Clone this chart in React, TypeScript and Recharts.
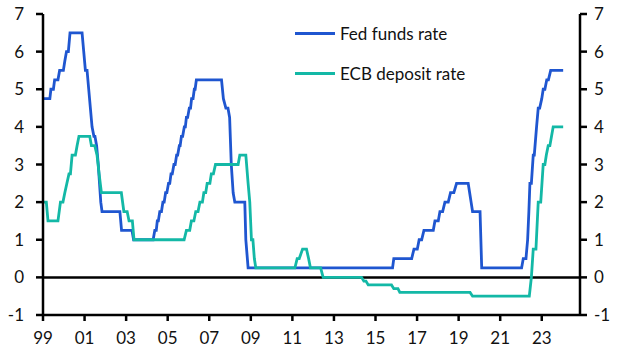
import { LineChart, Line, XAxis, YAxis, ReferenceLine } from "recharts";

// monthly-ish turning points (decimal year, % rate)
const fedDates = [
  1999.0, 1999.33, 1999.38, 1999.5, 1999.56, 1999.72, 1999.8, 1999.98, 2000.05, 2000.13, 2000.22, 2000.3,
  2000.88, 2000.96, 2001.04, 2001.12, 2001.2, 2001.28, 2001.36, 2001.45, 2001.5, 2001.58, 2001.66, 2001.72,
  2001.78, 2001.84, 2002.7, 2002.78, 2003.28, 2003.36, 2004.3, 2004.38, 2004.45, 2004.5, 2004.55, 2004.62,
  2004.7, 2004.77, 2004.83, 2004.9, 2004.96, 2005.04, 2005.1, 2005.16, 2005.22, 2005.3, 2005.36, 2005.43,
  2005.48, 2005.56, 2005.6, 2005.66, 2005.72, 2005.8, 2005.85, 2005.9, 2005.96, 2006.04, 2006.1, 2006.15,
  2006.22, 2006.28, 2006.32, 2006.38, 2007.59, 2007.68, 2007.8, 2007.9, 2007.98, 2008.06, 2008.15, 2008.23,
  2008.71, 2008.76, 2008.87, 2015.82, 2015.88, 2016.74, 2016.85, 2017.01, 2017.1, 2017.22, 2017.33, 2017.78,
  2017.86, 2018.02, 2018.1, 2018.23, 2018.34, 2018.5, 2018.61, 2018.77, 2018.9, 2019.46, 2019.53, 2019.6,
  2019.67, 2020.03, 2020.11, 2022.03, 2022.11, 2022.24, 2022.32, 2022.38, 2022.43, 2022.5, 2022.59, 2022.64,
  2022.75, 2022.83, 2022.9, 2023.0, 2023.07, 2023.15, 2023.24, 2023.32, 2023.43, 2024.03,
];
const fedRates = [
  4.75, 4.75, 5.0, 5.0, 5.25, 5.25, 5.5, 5.5, 5.75, 6.0, 6.0, 6.5,
  6.5, 6.0, 5.5, 5.5, 5.0, 4.5, 4.0, 3.75, 3.75, 3.5, 3.0, 2.5,
  2.0, 1.75, 1.75, 1.25, 1.25, 1.0, 1.0, 1.25, 1.25, 1.5, 1.5, 1.75,
  1.75, 2.0, 2.0, 2.25, 2.25, 2.5, 2.5, 2.75, 2.75, 3.0, 3.0, 3.25,
  3.25, 3.5, 3.5, 3.75, 3.75, 4.0, 4.0, 4.25, 4.25, 4.5, 4.5, 4.75,
  4.75, 5.0, 5.0, 5.25, 5.25, 4.75, 4.5, 4.5, 4.25, 3.0, 2.25, 2.0,
  2.0, 1.0, 0.25, 0.25, 0.5, 0.5, 0.75, 0.75, 1.0, 1.0, 1.25, 1.25,
  1.5, 1.5, 1.75, 1.75, 2.0, 2.0, 2.25, 2.25, 2.5, 2.5, 2.25, 2.0,
  1.75, 1.75, 0.25, 0.25, 0.5, 0.5, 1.0, 1.75, 2.5, 2.5, 3.25, 3.25,
  4.0, 4.5, 4.5, 4.75, 5.0, 5.0, 5.25, 5.25, 5.5, 5.5,
];

const ecbDates = [
  1999.0, 1999.16, 1999.24, 1999.72, 1999.84, 1999.96, 2000.05, 2000.15, 2000.25, 2000.32, 2000.4, 2000.56,
  2000.64, 2000.73, 2001.25, 2001.33, 2001.49, 2001.6, 2001.7, 2001.81, 2002.77, 2002.89, 2003.05, 2003.14,
  2003.3, 2003.38, 2005.79, 2005.9, 2006.06, 2006.14, 2006.26, 2006.35, 2006.46, 2006.55, 2006.67, 2006.74,
  2006.83, 2006.9, 2007.03, 2007.1, 2007.2, 2007.3, 2008.39, 2008.47, 2008.76, 2008.87, 2008.95, 2009.03,
  2009.1, 2009.17, 2009.24, 2011.12, 2011.23, 2011.33, 2011.49, 2011.68, 2011.78, 2011.87, 2012.36, 2012.48,
  2014.33, 2014.44, 2014.54, 2014.65, 2015.77, 2015.88, 2016.08, 2016.17, 2019.55, 2019.67, 2022.4, 2022.5,
  2022.59, 2022.72, 2022.83, 2022.95, 2023.07, 2023.15, 2023.22, 2023.31, 2023.39, 2023.47, 2023.55, 2024.03,
];
const ecbRates = [
  2.0, 2.0, 1.5, 1.5, 2.0, 2.0, 2.25, 2.5, 2.75, 2.75, 3.25, 3.25,
  3.5, 3.75, 3.75, 3.5, 3.5, 3.25, 2.75, 2.25, 2.25, 1.75, 1.75, 1.5,
  1.5, 1.0, 1.0, 1.25, 1.25, 1.5, 1.5, 1.75, 1.75, 2.0, 2.0, 2.25,
  2.25, 2.5, 2.5, 2.75, 2.75, 3.0, 3.0, 3.25, 3.25, 2.5, 2.0, 1.0,
  1.0, 0.5, 0.25, 0.25, 0.5, 0.5, 0.75, 0.75, 0.5, 0.25, 0.25, 0.0,
  0.0, -0.1, -0.1, -0.2, -0.2, -0.3, -0.3, -0.4, -0.4, -0.5, -0.5, 0.0,
  0.75, 0.75, 2.0, 2.0, 3.0, 3.0, 3.25, 3.5, 3.5, 3.75, 4.0, 4.0,
];

const xTicks = [1999, 2001, 2003, 2005, 2007, 2009, 2011, 2013, 2015, 2017, 2019, 2021, 2023];
const yTicks = [-1, 0, 1, 2, 3, 4, 5, 6, 7];

const seriesNames = ["Fed funds rate", "ECB deposit rate"];
const seriesColors = ["#1f56d0", "#13b8a6"];

const fedData = fedDates.map((d, i) => ({ date: d, rate: fedRates[i] }));
const ecbData = ecbDates.map((d, i) => ({ date: d, rate: ecbRates[i] }));

const FONT = "Lato, 'Liberation Sans', sans-serif";
const tickStyle = { fontSize: 17, fill: "#111", fontFamily: FONT };
const axisStroke = { stroke: "#000", strokeWidth: 2.5 };

export default function App() {
  return (
    <div style={{ position: "absolute", left: 0, top: 0, width: 629, height: 357, background: "#fff", fontFamily: FONT }}>
      <LineChart width={629} height={357} margin={{ top: 14, right: 0, left: 0, bottom: 0 }}>
        <XAxis
          type="number"
          dataKey="date"
          domain={[1999, 2024.84]}
          ticks={xTicks}
          allowDataOverflow
          tickFormatter={(v: number) => String(v % 100).padStart(2, "0")}
          tick={tickStyle}
          axisLine={axisStroke}
          tickLine={axisStroke}
          tickSize={6}
          tickMargin={11}
          height={42}
        />
        <YAxis
          yAxisId="left"
          domain={[-1, 7]}
          ticks={yTicks}
          tick={tickStyle}
          axisLine={axisStroke}
          tickLine={axisStroke}
          tickSize={7}
          tickMargin={12}
          width={43}
        />
        <YAxis
          yAxisId="right"
          orientation="right"
          domain={[-1, 7]}
          ticks={yTicks}
          tick={tickStyle}
          axisLine={axisStroke}
          tickLine={axisStroke}
          tickSize={7}
          tickMargin={7}
          width={49}
        />
        <ReferenceLine yAxisId="left" y={0} stroke="#000" strokeWidth={2.5} />
        <Line
          yAxisId="left"
          data={fedData}
          dataKey="rate"
          type="linear"
          stroke={seriesColors[0]}
          strokeWidth={2.8}
          dot={false}
          isAnimationActive={false}
        />
        {/* same scale on both sides; ECB sits on the right axis so that axis gets its ticks */}
        <Line
          yAxisId="right"
          data={ecbData}
          dataKey="rate"
          type="linear"
          stroke={seriesColors[1]}
          strokeWidth={2.8}
          dot={false}
          isAnimationActive={false}
        />
      </LineChart>
      {/* legend drawn by hand, top-middle of the plot */}
      <div style={{ position: "absolute", left: 295, top: 21 }}>
        {seriesNames.map((name, i) => (
          <div key={name} style={{ display: "flex", alignItems: "center", height: 24, marginBottom: i === 0 ? 16 : 0 }}>
            <div style={{ width: 40, height: 3, background: seriesColors[i] }} />
            <span style={{ marginLeft: 5, fontSize: 17, color: "#111", whiteSpace: "nowrap" }}>{name}</span>
          </div>
        ))}
      </div>
    </div>
  );
}
